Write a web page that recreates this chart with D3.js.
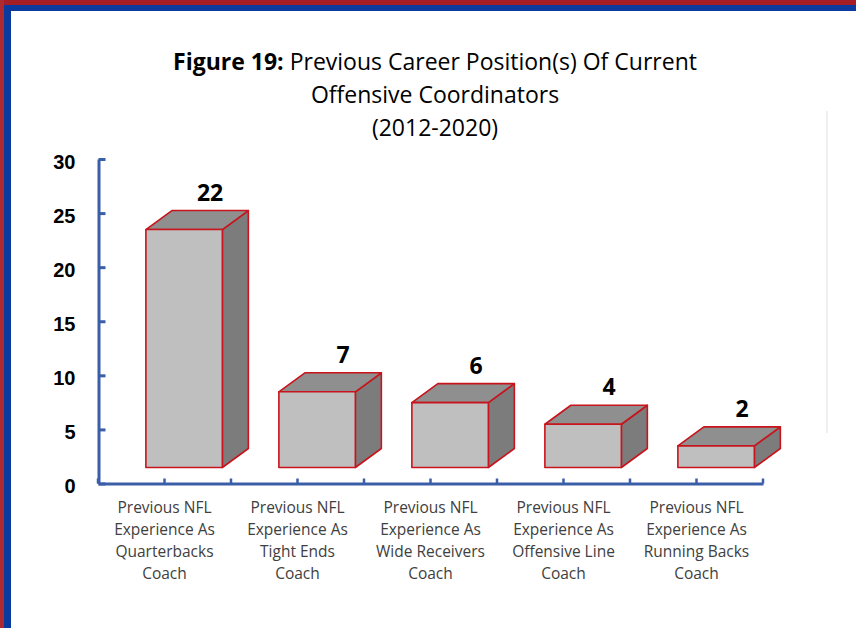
<!DOCTYPE html>
<html>
<head>
  <title>Figure 19</title>
  <script src="https://d3js.org/d3.v7.min.js"></script>
  <style>
    body { margin: 0; background: #fff; }
    svg { display: block; font-family: "Open Sans", sans-serif; }
  </style>
</head>
<body>
  <div id="chart"></div>
  <script>
    const categories = ["Quarterbacks", "Tight Ends", "Wide Receivers", "Offensive Line", "Running Backs"];
    const values = [22, 7, 6, 4, 2];
    const labelLines = [
      ["Previous NFL", "Experience As", "Quarterbacks", "Coach"],
      ["Previous NFL", "Experience As", "Tight Ends", "Coach"],
      ["Previous NFL", "Experience As", "Wide Receivers", "Coach"],
      ["Previous NFL", "Experience As", "Offensive Line", "Coach"],
      ["Previous NFL", "Experience As", "Running Backs", "Coach"]
    ];
    const yTicks = [0, 5, 10, 15, 20, 25, 30];

    const W = 856, H = 628;
    const axisColor = "#3a5ea8";
    const lift = 16, dx = 26, dy = 19;

    const svg = d3.select("#chart").append("svg")
      .attr("width", W)
      .attr("height", H);

    svg.append("rect").attr("width", W).attr("height", H).attr("fill", "#fff");

    // frame
    svg.append("rect").attr("x", 0).attr("y", 0).attr("width", W).attr("height", 5).attr("fill", "#a61e25");
    svg.append("rect").attr("x", 0).attr("y", 0).attr("width", 4).attr("height", H).attr("fill", "#ad2a30");
    svg.append("rect").attr("x", 4).attr("y", 5).attr("width", W - 4).attr("height", 6).attr("fill", "#0a3a9e");
    svg.append("rect").attr("x", 4).attr("y", 5).attr("width", 7).attr("height", H - 5).attr("fill", "#0a3a9e");

    // faint plot area edge
    svg.append("line")
      .attr("x1", 827).attr("x2", 827).attr("y1", 111).attr("y2", 433)
      .attr("stroke", "#f0f0f0").attr("stroke-width", 2);

    // title
    const title = svg.append("text")
      .attr("text-anchor", "middle")
      .attr("fill", "#000")
      .style("font-size", "23px");
    const l1 = title.append("tspan").attr("x", 435).attr("y", 70);
    l1.append("tspan").style("font-weight", "bold").text("Figure 19:");
    l1.append("tspan").text(" Previous Career Position(s) Of Current");
    title.append("tspan").attr("x", 435).attr("y", 103).text("Offensive Coordinators");
    title.append("tspan").attr("x", 435).attr("y", 136).text("(2012-2020)");

    const x = d3.scaleBand()
      .domain(categories)
      .range([98, 763]);

    const y = d3.scaleLinear()
      .domain([0, 30])
      .range([483.5, 159]);

    const bw = x.bandwidth();
    const fw = bw * 0.575;

    // y axis
    const yAxis = svg.append("g")
      .attr("transform", "translate(98.5,0)")
      .call(d3.axisLeft(y).tickValues(yTicks).tickSizeInner(-7).tickSizeOuter(0).tickPadding(23));
    yAxis.select(".domain").attr("stroke", axisColor).attr("stroke-width", 3);
    yAxis.selectAll(".tick line").attr("stroke", axisColor).attr("stroke-width", 3);
    yAxis.selectAll(".tick text")
      .attr("fill", "#000")
      .attr("dy", "0.45em")
      .style("font-size", "20px")
      .style("font-weight", "bold");

    // x axis
    const xAxis = svg.append("g")
      .attr("transform", "translate(0," + y(0) + ")")
      .call(d3.axisBottom(x).tickSizeInner(-5).tickSizeOuter(0).tickPadding(0).tickFormat(""));
    xAxis.select(".domain").attr("stroke", axisColor).attr("stroke-width", 3);
    xAxis.selectAll(".tick line").attr("stroke", axisColor).attr("stroke-width", 2.5);
    const bounds = categories.map(c => x(c)).concat([x(categories[categories.length - 1]) + bw]);
    xAxis.selectAll(".bound")
      .data(bounds)
      .enter().append("line")
      .attr("class", "bound")
      .attr("x1", d => d).attr("x2", d => d)
      .attr("y1", 0).attr("y2", -5)
      .attr("stroke", axisColor).attr("stroke-width", 2.5);

    // category labels
    const catText = svg.selectAll(".cat")
      .data(categories)
      .enter().append("text")
      .attr("class", "cat")
      .attr("text-anchor", "middle")
      .attr("fill", "#404040")
      .style("font-size", "15.5px");
    catText.each(function(c, i) {
      d3.select(this).selectAll("tspan")
        .data(labelLines[i])
        .enter().append("tspan")
        .attr("x", x(c) + bw / 2)
        .attr("y", (d, j) => 513 + j * 22)
        .text(d => d);
    });

    // 3d bars
    const bars = svg.selectAll(".bar")
      .data(values)
      .enter().append("g")
      .attr("class", "bar");

    bars.each(function(v, i) {
      const g = d3.select(this);
      const fl = x(categories[i]) + bw * 0.36;
      const yt = y(v) - lift;
      const yb = y(0) - lift;
      const pts = p => p.map(q => q.join(",")).join(" ");

      g.append("polygon")
        .attr("points", pts([[fl + fw, yt], [fl + fw + dx, yt - dy], [fl + fw + dx, yb - dy], [fl + fw, yb]]))
        .attr("fill", "#7c7c7c");
      g.append("polygon")
        .attr("points", pts([[fl, yt], [fl + dx, yt - dy], [fl + fw + dx, yt - dy], [fl + fw, yt]]))
        .attr("fill", "#8f8f8f");
      g.append("rect")
        .attr("x", fl).attr("y", yt)
        .attr("width", fw).attr("height", yb - yt)
        .attr("fill", "#bfbfbf");
      g.selectAll("polygon, rect")
        .attr("stroke", "#c8141c")
        .attr("stroke-width", 1.6)
        .attr("stroke-linejoin", "round");

      g.append("text")
        .attr("x", fl + dx + fw / 2)
        .attr("y", yt - dy - 10)
        .attr("text-anchor", "middle")
        .attr("fill", "#000")
        .style("font-size", "23px")
        .style("font-weight", "bold")
        .text(v);
    });
  </script>
</body>
</html>
